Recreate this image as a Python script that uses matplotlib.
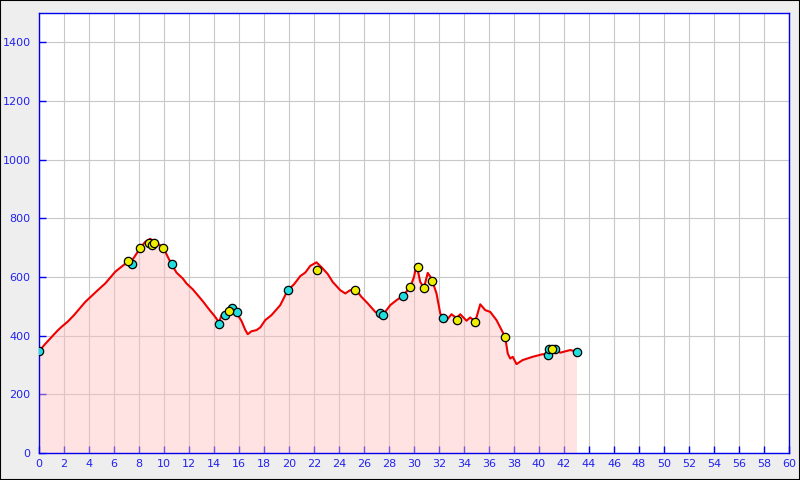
import matplotlib
matplotlib.use("Agg")
import matplotlib.pyplot as plt
from matplotlib.patches import Rectangle

dist = [0, 0.5, 1.0, 1.5, 1.8, 2.3, 2.8, 3.2, 3.7, 4.2, 4.7, 5.3, 5.7, 6.1, 6.6, 7.1, 7.5,
        8.1, 8.5, 8.9, 9.2, 9.7, 10.0, 10.3, 10.6, 11.0, 11.5, 11.8, 12.3, 12.7, 13.15,
        13.6, 14.1, 14.4, 14.6, 14.9, 15.2, 15.4, 15.8, 16.2, 16.5, 16.7, 17.0, 17.4,
        17.7, 18.1, 18.6, 19.3, 19.9, 20.4, 20.9, 21.3, 21.7, 22.2, 22.7, 23.1, 23.5,
        24.1, 24.5, 24.9, 25.3, 25.8, 26.3, 26.9, 27.3, 27.5, 28.1, 28.6, 29.1, 29.7,
        30.0, 30.2, 30.5, 30.8, 31.1, 31.4, 31.8, 32.1, 32.5, 33.0, 33.4, 33.7, 34.2,
        34.5, 34.9, 35.3, 35.7, 36.1, 36.6, 37.0, 37.3, 37.5, 37.7, 37.9, 38.2, 38.7,
        39.5, 40.3, 40.7, 41.0, 41.3, 41.7, 42.5, 43.0]
elev = [347, 372, 395, 418, 430, 448, 470, 490, 515, 535, 555, 578, 598, 618, 635, 652, 660,
        699, 720, 730, 722, 708, 695, 669, 644, 615, 595, 578, 558, 538, 515,
        490, 464, 445, 470, 475, 488, 495, 478, 450, 420, 405, 415, 419,
        428, 453, 470, 504, 555, 575, 603, 615, 638, 650, 629, 610, 583,
        555, 544, 555, 560, 532, 510, 481, 476, 470, 504, 521, 535, 566,
        600, 644, 583, 564, 614, 595, 544, 476, 447, 473, 460, 473, 451,
        462, 448, 507, 487, 481, 453, 420, 394, 339, 322, 328, 303, 317,
        328, 337, 335, 353, 355, 342, 351, 346]

cyan_x = [0, 7.45, 10.6, 14.4, 14.9, 15.4, 15.8, 19.9, 27.3, 27.5, 29.1, 32.3, 40.7, 40.8, 41.3, 43.0]
cyan_y = [347, 643, 644, 439, 470, 493, 480, 555, 476, 469, 535, 459, 333, 353, 353, 346]
yellow_x = [7.1, 8.1, 8.8, 9.0, 9.2, 9.9, 15.2, 22.2, 25.3, 29.7, 30.3, 30.8, 31.4, 33.4, 34.9, 37.3, 41.0]
yellow_y = [654, 700, 717, 708, 717, 700, 483, 623, 557, 566, 635, 564, 587, 453, 445, 394, 353]

xticks = list(range(0, 61, 2))
yticks = list(range(0, 1401, 200))

fig = plt.figure(figsize=(8, 4.8), dpi=100, facecolor="#eeeeee")
fig.patches.append(Rectangle((0, 0), 1, 1, transform=fig.transFigure, fill=False,
                             edgecolor="black", linewidth=1.5, zorder=10))
ax = fig.add_axes([0.04875, 0.05625, 0.9375, 0.91667])
ax.set_facecolor("white")
ax.set_xlim(0, 60)
ax.set_ylim(0, 1500)
ax.set_xticks(xticks)
ax.set_yticks(yticks)
ax.grid(True, color="#c8c8c8", linewidth=0.8)
ax.set_axisbelow(True)
for s in ax.spines.values():
    s.set_color("#0000ee")
    s.set_linewidth(1.0)
ax.tick_params(colors="#0000ee", direction="in", length=5, width=1.0, labelsize=8,
               labelcolor="#2222ee")
ax.tick_params(axis="x", pad=4)
ax.tick_params(axis="y", pad=6)

ax.fill_between(dist, elev, 0, color="#ffc0c0", alpha=0.45, linewidth=0, zorder=2)
ax.plot(dist, elev, color="#ee0000", linewidth=1.5, zorder=3)
ax.plot(cyan_x, cyan_y, linestyle="none", marker="o", markersize=6,
        markerfacecolor="#22dddd", markeredgecolor="black", markeredgewidth=0.9, zorder=4)
ax.plot(yellow_x, yellow_y, linestyle="none", marker="o", markersize=6,
        markerfacecolor="#eeee00", markeredgecolor="black", markeredgewidth=0.9, zorder=5)

fig.savefig("out.png", dpi=100, facecolor=fig.get_facecolor())
